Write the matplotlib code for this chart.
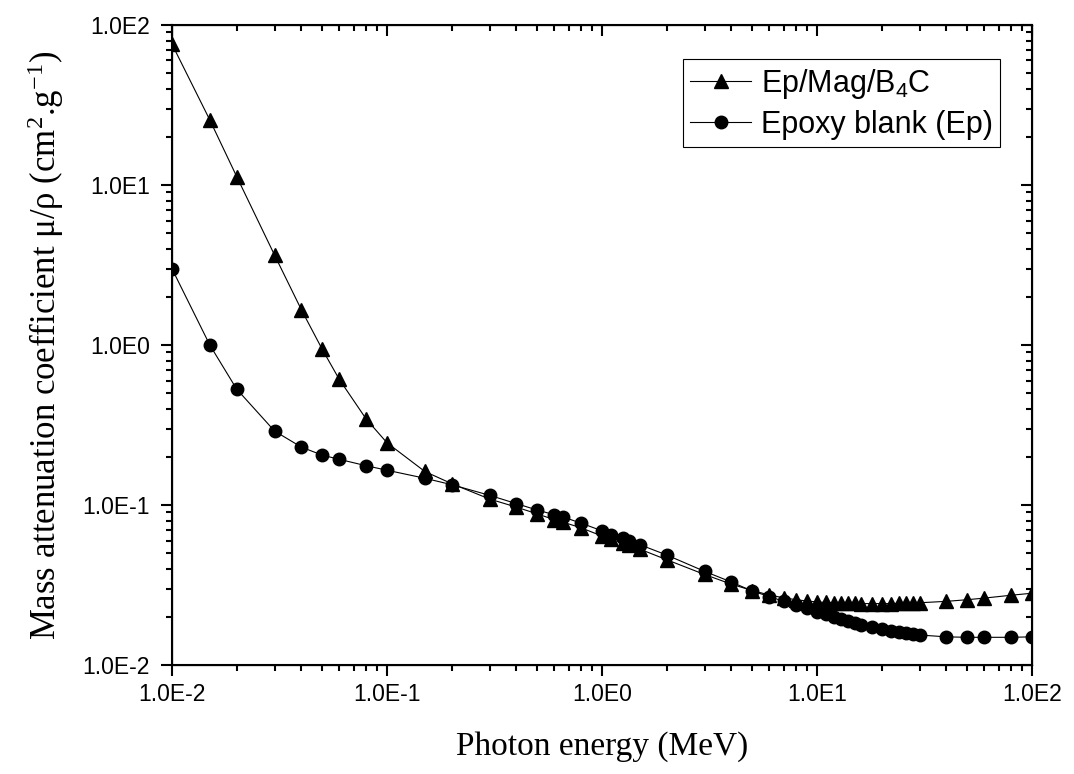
import numpy as np
import matplotlib
matplotlib.use("Agg")
import matplotlib.pyplot as plt
from matplotlib.ticker import LogLocator, FixedLocator, FixedFormatter, NullFormatter

# photon energies (MeV), same grid for both samples
energy = [0.01, 0.015, 0.02, 0.03, 0.04, 0.05, 0.06, 0.08, 0.1, 0.15, 0.2,
          0.3, 0.4, 0.5, 0.6, 0.662, 0.8, 1.0, 1.1, 1.25, 1.33, 1.5, 2, 3,
          4, 5, 6, 7, 8, 9, 10, 11, 12, 13, 14, 15, 16, 18, 20, 22, 24, 26,
          28, 30, 40, 50, 60, 80, 100]

# mass attenuation coefficient (cm2/g)
mu_composite = [76, 25.5, 11.3, 3.65, 1.66, 0.94, 0.61, 0.345, 0.245, 0.162, 0.136,
                0.109, 0.097, 0.088, 0.081, 0.078, 0.072, 0.064, 0.061, 0.058, 0.056, 0.053, 0.0455, 0.0368,
                0.0320, 0.0292, 0.0274, 0.0263, 0.0256, 0.0251, 0.0248, 0.0246, 0.0245, 0.0244, 0.0243, 0.0243,
                0.0242, 0.0242, 0.0242, 0.0242, 0.0243, 0.0243, 0.0244, 0.0245, 0.0250, 0.0256, 0.0262,
                0.0273, 0.0281]
mu_epoxy = [3.0, 1.0, 0.53, 0.29, 0.230, 0.205, 0.193, 0.176, 0.165, 0.147, 0.134,
            0.115, 0.102, 0.093, 0.087, 0.084, 0.077, 0.069, 0.065, 0.062, 0.0598, 0.0565, 0.0487, 0.0385,
            0.0330, 0.0290, 0.0268, 0.0250, 0.0238, 0.0228, 0.0216, 0.0207, 0.0200, 0.0194, 0.0188, 0.0183,
            0.0179, 0.0173, 0.0168, 0.0164, 0.0161, 0.0158, 0.0156, 0.0154, 0.0150, 0.0149, 0.0149,
            0.0149, 0.0150]

series_labels = ['Ep/Mag/B$\\mathregular{_4}$C', 'Epoxy blank (Ep)']

decades = [0.01, 0.1, 1, 10, 100]
xtick_labels = ['1.0E-2', '1.0E-1', '1.0E0', '1.0E1', '1.0E2']
ytick_labels = ['1.0E-2', '1.0E-1', '1.0E0', '1.0E1', '1.0E2']

sans = 'Liberation Sans'
serif = 'Liberation Serif'

fig = plt.figure(figsize=(10.74, 7.74), dpi=100)
ax = fig.add_axes([0.1601, 0.1408, 0.8008, 0.8269])

ax.plot(energy, mu_composite, '-^', color='black', lw=0.8, ms=10, label=series_labels[0])
ax.plot(energy, mu_epoxy, '-o', color='black', lw=0.8, ms=9, label=series_labels[1])

ax.set_xscale('log')
ax.set_yscale('log')
ax.set_xlim(0.01, 100)
ax.set_ylim(0.01, 100)

ax.xaxis.set_major_locator(FixedLocator(decades))
ax.xaxis.set_major_formatter(FixedFormatter(xtick_labels))
ax.yaxis.set_major_locator(FixedLocator(decades))
ax.yaxis.set_major_formatter(FixedFormatter(ytick_labels))
for a in (ax.xaxis, ax.yaxis):
    a.set_minor_locator(LogLocator(base=10, subs=np.arange(2, 10)))
    a.set_minor_formatter(NullFormatter())

ax.tick_params(which='both', direction='out', width=1.5, top=False, right=False)
ax.tick_params(which='major', length=8, labelsize=16.5)
ax.tick_params(axis='x', which='major', pad=5)
ax.tick_params(axis='y', which='major', pad=8)
ax.tick_params(which='minor', length=4.5)
for lab in ax.get_xticklabels() + ax.get_yticklabels():
    lab.set_fontfamily(sans)
for s in ax.spines.values():
    s.set_linewidth(1.5)

# top and right axes carry inward ticks, no labels
axt = ax.twiny()
axt.set_xscale('log')
axt.set_xlim(ax.get_xlim())
axt.xaxis.set_minor_locator(LogLocator(base=10, subs=np.arange(2, 10)))
axt.tick_params(which='both', direction='in', width=1.5, labeltop=False)
axt.tick_params(which='major', length=8)
axt.tick_params(which='minor', length=4.5)

axr = ax.twinx()
axr.set_yscale('log')
axr.set_ylim(ax.get_ylim())
axr.yaxis.set_minor_locator(LogLocator(base=10, subs=np.arange(2, 10)))
axr.tick_params(which='both', direction='in', width=1.5, labelright=False)
axr.tick_params(which='major', length=8)
axr.tick_params(which='minor', length=4.5)

ax.set_xlabel('Photon energy (MeV)', fontfamily=serif, fontsize=24, labelpad=18)
ax.set_ylabel('Mass attenuation coefficient \u03bc/\u03c1 (cm$\\mathregular{^2}$.g$\\mathregular{^{-1}}$)',
              fontfamily=serif, fontsize=25, labelpad=12)

leg = ax.legend(loc='upper right', bbox_to_anchor=(0.963, 0.947), fancybox=False,
                edgecolor='black', framealpha=1, prop={'family': sans, 'size': 22},
                handlelength=2.0, borderpad=0.25, labelspacing=0.3, handletextpad=0.3,
                borderaxespad=0)
leg.get_frame().set_linewidth(0.8)

fig.savefig('out.png', dpi=100)
